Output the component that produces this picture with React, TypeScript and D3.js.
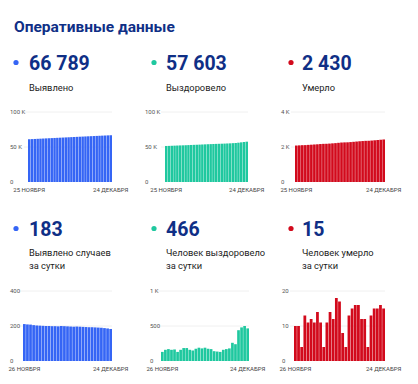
import React from "react";
import * as d3 from "d3";

// ---- data ----
const topDates = ["25 НОЯБРЯ", "24 ДЕКАБРЯ"];
const bottomDates = ["26 НОЯБРЯ", "24 ДЕКАБРЯ"];

const totalCases = [61066, 61277, 61486, 61694, 61899, 62102, 62304, 62505, 62705, 62905, 63104, 63303, 63501, 63701, 63900, 64098, 64295, 64491, 64688, 64884, 65079, 65273, 65466, 65659, 65851, 66042, 66232, 66420, 66606, 66789];
const totalRecovered = [51467, 51597, 51757, 51927, 52087, 52252, 52382, 52542, 52727, 52912, 53072, 53222, 53397, 53587, 53767, 53957, 54132, 54302, 54442, 54577, 54707, 54867, 55037, 55217, 55477, 55717, 56157, 56637, 57137, 57603];
const totalDeaths = [2084, 2094, 2104, 2108, 2121, 2132, 2144, 2155, 2169, 2180, 2184, 2195, 2209, 2221, 2239, 2256, 2264, 2268, 2281, 2296, 2312, 2328, 2340, 2352, 2356, 2369, 2384, 2399, 2415, 2430];

const dailyCases = [211, 209, 208, 205, 203, 202, 201, 200, 200, 199, 199, 198, 200, 199, 198, 197, 196, 197, 196, 195, 194, 193, 193, 192, 191, 190, 188, 186, 183];
const dailyRecovered = [130, 160, 170, 160, 165, 130, 160, 185, 185, 160, 150, 175, 190, 180, 190, 175, 170, 140, 135, 130, 160, 170, 180, 260, 240, 440, 480, 500, 466];
const dailyDeaths = [10, 10, 4, 13, 11, 12, 11, 14, 11, 4, 11, 14, 12, 18, 17, 8, 4, 13, 15, 16, 16, 12, 12, 4, 13, 15, 15, 16, 15];

const headlineNumbers = ["66 789", "57 603", "2 430", "183", "466", "15"];
const headlineLabels = [["Выявлено"], ["Выздоровело"], ["Умерло"], ["Выявлено случаев", "за сутки"], ["Человек выздоровело", "за сутки"], ["Человек умерло", "за сутки"]];

const ticksBig = [0, 50000, 100000];
const ticksBigLabels = ["0", "50 K", "100 K"];
const ticksDeathTotal = [0, 2000, 4000];
const ticksDeathTotalLabels = ["0", "2 K", "4 K"];
const ticksDailyCases = [0, 200, 400];
const ticksDailyCasesLabels = ["0", "200", "400"];
const ticksDailyRec = [0, 500, 1000];
const ticksDailyRecLabels = ["0", "500", "1 K"];
const ticksDailyDeaths = [0, 10, 20];
const ticksDailyDeathsLabels = ["0", "10", "20"];

const BLUE = "#3565f5";
const GREEN = "#1fc89f";
const RED = "#d20a1c";
const NAVY = "#0f2f86";

type Panel = {
  values: number[];
  ticks: number[];
  tickLabels: string[];
  dates: string[];
  color: string;
  labelX: number;
  x0: number;
  x1: number;
  y0: number;
  y1: number;
  dotX: number;
  numX: number;
  numY: number;
  lblY: number;
  num: string;
  lbl: string[];
};

const colors = [BLUE, GREEN, RED, BLUE, GREEN, RED];
const seriesList = [totalCases, totalRecovered, totalDeaths, dailyCases, dailyRecovered, dailyDeaths];
const tickList = [ticksBig, ticksBig, ticksDeathTotal, ticksDailyCases, ticksDailyRec, ticksDailyDeaths];
const tickLabelList = [ticksBigLabels, ticksBigLabels, ticksDeathTotalLabels, ticksDailyCasesLabels, ticksDailyRecLabels, ticksDailyDeathsLabels];

const geom = [
  { labelX: 10, x0: 28, x1: 112, dotX: 16, numX: 29 },
  { labelX: 145, x0: 165, x1: 248, dotX: 154, numX: 166 },
  { labelX: 281, x0: 295, x1: 385, dotX: 291, numX: 302 },
  { labelX: 10, x0: 23, x1: 112, dotX: 16, numX: 29 },
  { labelX: 150, x0: 161, x1: 249, dotX: 154, numX: 166 },
  { labelX: 282, x0: 294, x1: 385, dotX: 291, numX: 302 },
];

const panels: Panel[] = geom.map((g, i) => {
  const top = i < 3;
  return {
    ...g,
    values: seriesList[i],
    ticks: tickList[i],
    tickLabels: tickLabelList[i],
    dates: top ? topDates : bottomDates,
    color: colors[i],
    y0: top ? 182 : 361,
    y1: top ? 112 : 291,
    numY: top ? 70 : 236,
    lblY: top ? 91 : 256,
    num: headlineNumbers[i],
    lbl: headlineLabels[i],
  };
});

const FONT = "Roboto, 'Noto Sans', sans-serif";

function MiniChart({ p }: { p: Panel }) {
  const x = d3
    .scaleBand<number>()
    .domain(d3.range(p.values.length))
    .range([p.x0, p.x1])
    .paddingInner(0.12)
    .paddingOuter(0);
  const y = d3
    .scaleLinear()
    .domain([0, p.ticks[p.ticks.length - 1]])
    .range([p.y0, p.y1]);
  const firstC = (x(0) ?? 0) + x.bandwidth() / 2;
  const lastC = (x(p.values.length - 1) ?? 0) + x.bandwidth() / 2;
  return (
    <g>
      {p.ticks.map((t, i) => (
        <g key={i}>
          {i > 0 && (
            <line x1={p.x0 - 4} x2={p.x1} y1={y(t)} y2={y(t)} stroke="#ececec" strokeWidth={0.8} />
          )}
          <text
            x={p.labelX}
            y={y(t)}
            dy="0.35em"
            fontSize={6}
            fill="#555"
            fontFamily={FONT}
          >
            {p.tickLabels[i]}
          </text>
        </g>
      ))}
      {p.values.map((v, i) => (
        <rect
          key={i}
          x={x(i)}
          y={y(v)}
          width={x.bandwidth()}
          height={p.y0 - y(v)}
          fill={p.color}
        />
      ))}
      <text x={firstC} y={p.y0 + 10} textAnchor="middle" fontSize={6} fill="#444" fontFamily={FONT}>
        {p.dates[0]}
      </text>
      <text x={lastC} y={p.y0 + 10} textAnchor="middle" fontSize={6} fill="#444" fontFamily={FONT}>
        {p.dates[1]}
      </text>
    </g>
  );
}

export default function App() {
  return (
    <svg
      width={418}
      height={384}
      style={{ position: "absolute", left: 0, top: 0, background: "#fff" }}
      fontFamily={FONT}
    >
      <rect width={418} height={384} fill="#fff" />
      <text x={14} y={32} fontSize={15.5} fontWeight={700} fill={NAVY}>
        Оперативные данные
      </text>
      {panels.map((p, i) => (
        <g key={i}>
          <circle cx={p.dotX} cy={p.numY - 7.5} r={2.6} fill={p.color} />
          <text x={p.numX} y={p.numY} fontSize={19.5} fontWeight={700} fill={NAVY}>
            {p.num}
          </text>
          {p.lbl.map((l, j) => (
            <text key={j} x={p.numX} y={p.lblY + j * 13} fontSize={9.3} fill="#222">
              {l}
            </text>
          ))}
          <MiniChart p={p} />
        </g>
      ))}
    </svg>
  );
}
